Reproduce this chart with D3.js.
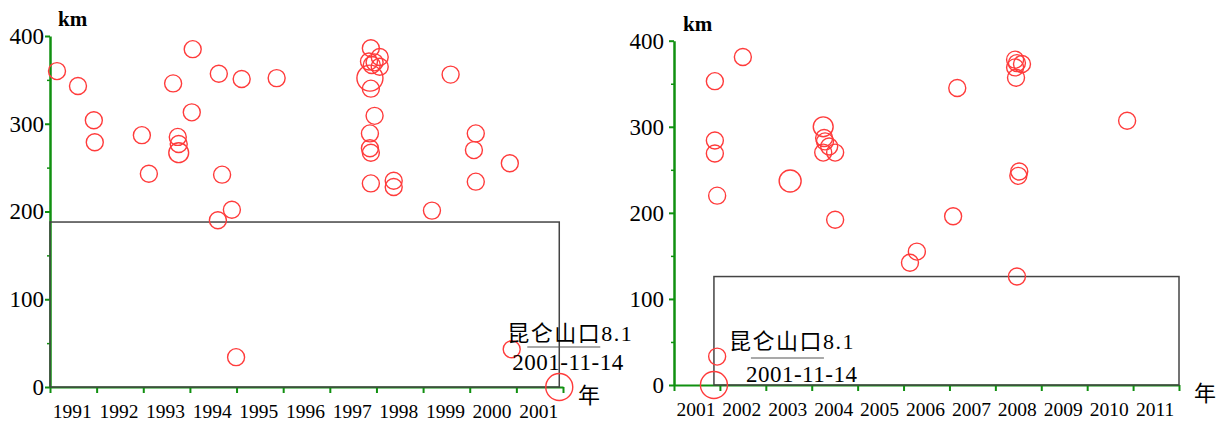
<!DOCTYPE html>
<html>
<head>
<meta charset="utf-8">
<script src="https://cdn.jsdelivr.net/npm/d3@7"></script>
<style>
  body { margin: 0; background: #fff; }
  svg { display: block; }
</style>
</head>
<body>
<div id="chart"></div>
<script>
// left panel: 1991 - 2001 (before the Kunlun Mts. M8.1 quake)
var leftYear = [1991.15, 1991.60, 1991.94, 1991.96, 1992.97, 1993.12, 1993.64, 1993.74, 1993.76, 1993.76,
  1994.06, 1994.04, 1994.62, 1994.69, 1995.11, 1995.86, 1994.90, 1994.60, 1994.99, 1997.88,
  1998.07, 1997.84, 1997.96, 1997.90, 1998.07, 1997.86, 1997.88, 1997.96, 1997.86, 1997.86,
  1997.88, 1997.88, 1998.37, 1998.37, 1999.59, 2000.13, 2000.09, 2000.86, 2000.13, 1999.19,
  2000.90, 2001.92];
var leftKm = [360, 343, 304, 279, 287, 243, 346, 285, 277, 267,
  385, 313, 357, 242, 351, 352, 202, 190, 34, 386,
  376, 371, 370, 367, 365, 352, 340, 309, 289, 272,
  267, 232, 235, 228, 356, 289, 270, 255, 234, 201,
  43, 0];
var leftMag = [6, 6, 6, 6, 6, 6, 6, 6, 6, 6.6,
  6, 6, 6, 6, 6, 6, 6, 6, 6, 6,
  6, 6, 6, 6, 6, 7.9, 6, 6, 6, 6,
  6, 6, 6, 6, 6, 6, 6, 6, 6, 6,
  6, 8.1];

// right panel: 2001 - 2011 (after the quake)
var rightYear = [2001.89, 2002.50, 2001.89, 2001.89, 2001.94, 2003.53, 2004.25, 2004.27, 2004.29, 2004.25,
  2004.38, 2004.51, 2004.51, 2006.14, 2006.29, 2001.94, 2007.08, 2008.47, 2008.43, 2008.47,
  2008.58, 2008.43, 2008.45, 2007.17, 2010.87, 2008.52, 2008.50, 2001.87];
var rightKm = [353, 381, 284, 269, 220, 237, 300, 287, 283, 270,
  277, 270, 192, 142, 155, 33, 196, 126, 378, 374,
  373, 369, 357, 345, 307, 248, 243, 0];
var rightMag = [6, 6, 6, 6, 6, 7.05, 6.6, 6, 6, 6,
  6, 6, 6, 6, 6, 6, 6, 6, 6, 6,
  6, 6, 6, 6, 6, 6, 6, 8.1];

var leftYears = d3.range(1991, 2002);   // tick labels
var rightYears = d3.range(2001, 2012);
var kmTicks = [0, 100, 200, 300, 400];
var kmMinor = [50, 150, 250, 350];

var quakeName = "昆仑山口8.1";
var quakeDate = "2001-11-14";
var leftQuakeYear = 2001.92;
var rightQuakeYear = 2001.87;
var leftBoxKm = 188;
var rightBoxKm = 126;

var green = "#109010";
var red = "#ff3b3b";
var serif = "'Liberation Serif', 'Noto Sans CJK SC', serif";

var svg = d3.select("#chart").append("svg")
  .attr("width", 1219)
  .attr("height", 425);

var rScale = d3.scaleLinear().domain([6, 8.1]).range([8.5, 13.5]);

function drawPanel(p) {
  var x = d3.scaleLinear().domain([p.years[0], p.years[p.years.length - 1] + 1]).range([p.x0, p.x1]);
  var y = d3.scaleLinear().domain([0, 400]).range([p.y0, p.y1]);
  var g = svg.append("g");

  // x axis: ticks at year boundaries, labels centred in each year
  var xAxis = g.append("g")
    .attr("transform", "translate(0," + p.y0 + ")")
    .call(d3.axisBottom(x).tickValues(d3.range(p.years[0], p.years[p.years.length - 1] + 2))
      .tickSize(6).tickSizeOuter(0).tickFormat(""));
  xAxis.select(".domain").attr("stroke", green).attr("stroke-width", 2);
  xAxis.selectAll(".tick line").attr("stroke", green).attr("stroke-width", 2);

  g.selectAll(".xlab")
    .data(p.years)
    .join("text")
      .attr("class", "xlab")
      .attr("x", d => x(d + 0.5) - 1)
      .attr("y", p.y0 + 31)
      .attr("text-anchor", "middle")
      .style("font-family", serif)
      .style("font-size", "19.5px")
      .text(d => d);

  // y axis
  var yAxis = g.append("g")
    .attr("transform", "translate(" + p.x0 + ",0)")
    .call(d3.axisLeft(y).tickValues(kmTicks).tickSize(5).tickSizeOuter(0).tickPadding(p.pad));
  yAxis.select(".domain").attr("stroke", green).attr("stroke-width", 2.5);
  yAxis.selectAll(".tick line").attr("stroke", green).attr("stroke-width", 2);
  yAxis.selectAll(".tick text")
    .style("font-family", serif)
    .style("font-size", "23px")
    .attr("fill", "#000");

  g.append("g")
    .attr("transform", "translate(" + p.x0 + ",0)")
    .call(d3.axisLeft(y).tickValues(kmMinor).tickSize(3).tickFormat(""))
    .call(a => a.select(".domain").remove())
    .selectAll(".tick line").attr("stroke", green).attr("stroke-width", 1.5);

  g.append("text")
    .attr("x", p.x0 + p.kmDx)
    .attr("y", p.y1 - 10)
    .style("font-family", serif)
    .style("font-size", "21px")
    .style("font-weight", "bold")
    .text("km");

  g.append("text")
    .attr("x", x.range()[1] + 15)
    .attr("y", p.y0 + 16)
    .style("font-family", "'Noto Sans CJK SC'")
    .style("font-size", "22px")
    .text("年");

  // box marking the region around the main shock
  g.append("rect")
    .attr("x", x(p.box[0]))
    .attr("y", y(p.box[2]))
    .attr("width", x(p.box[1]) - x(p.box[0]))
    .attr("height", y(0) - y(p.box[2]))
    .attr("fill", "none")
    .attr("stroke", "#444")
    .attr("stroke-width", 1.5);

  // events
  g.selectAll("circle")
    .data(p.year.map((d, i) => ({year: d, km: p.km[i], mag: p.mag[i]})))
    .join("circle")
      .attr("cx", d => x(d.year))
      .attr("cy", d => y(d.km))
      .attr("r", d => rScale(d.mag))
      .attr("fill", "none")
      .attr("stroke", red)
      .attr("stroke-width", 1.4);

  // annotation
  var ax = x(p.quake) + p.note[0], ay = y(0) + p.note[1];
  g.append("text")
    .attr("x", ax)
    .attr("y", ay)
    .style("font-family", serif)
    .style("font-size", "22px")
    .style("letter-spacing", "1.5px")
    .text(quakeName);
  g.append("line")
    .attr("x1", ax + p.line[0]).attr("x2", ax + p.line[1])
    .attr("y1", ay + p.line[2]).attr("y2", ay + p.line[2])
    .attr("stroke", "#555")
    .attr("stroke-width", 1.2);
  g.append("text")
    .attr("x", ax + p.dateDx)
    .attr("y", ay + p.dateDy)
    .style("font-family", serif)
    .style("font-size", "23px")
    .style("letter-spacing", "0.5px")
    .text(quakeDate);
}

drawPanel({
  years: leftYears, year: leftYear, km: leftKm, mag: leftMag, quake: leftQuakeYear,
  x0: 50, x1: 563, y0: 387, y1: 36, pad: 1, kmDx: 8,
  box: [1991, leftQuakeYear, leftBoxKm],
  note: [-52, -46], line: [20, 93, 6], dateDx: 5, dateDy: 29
});

drawPanel({
  years: rightYears, year: rightYear, km: rightKm, mag: rightMag, quake: rightQuakeYear,
  x0: 674, x1: 1179, y0: 385, y1: 40.7, pad: 5, kmDx: 9,
  box: [rightQuakeYear, 2012, rightBoxKm],
  note: [15, -36], line: [22, 95, 9], dateDx: 17, dateDy: 33
});
</script>
</body>
</html>
